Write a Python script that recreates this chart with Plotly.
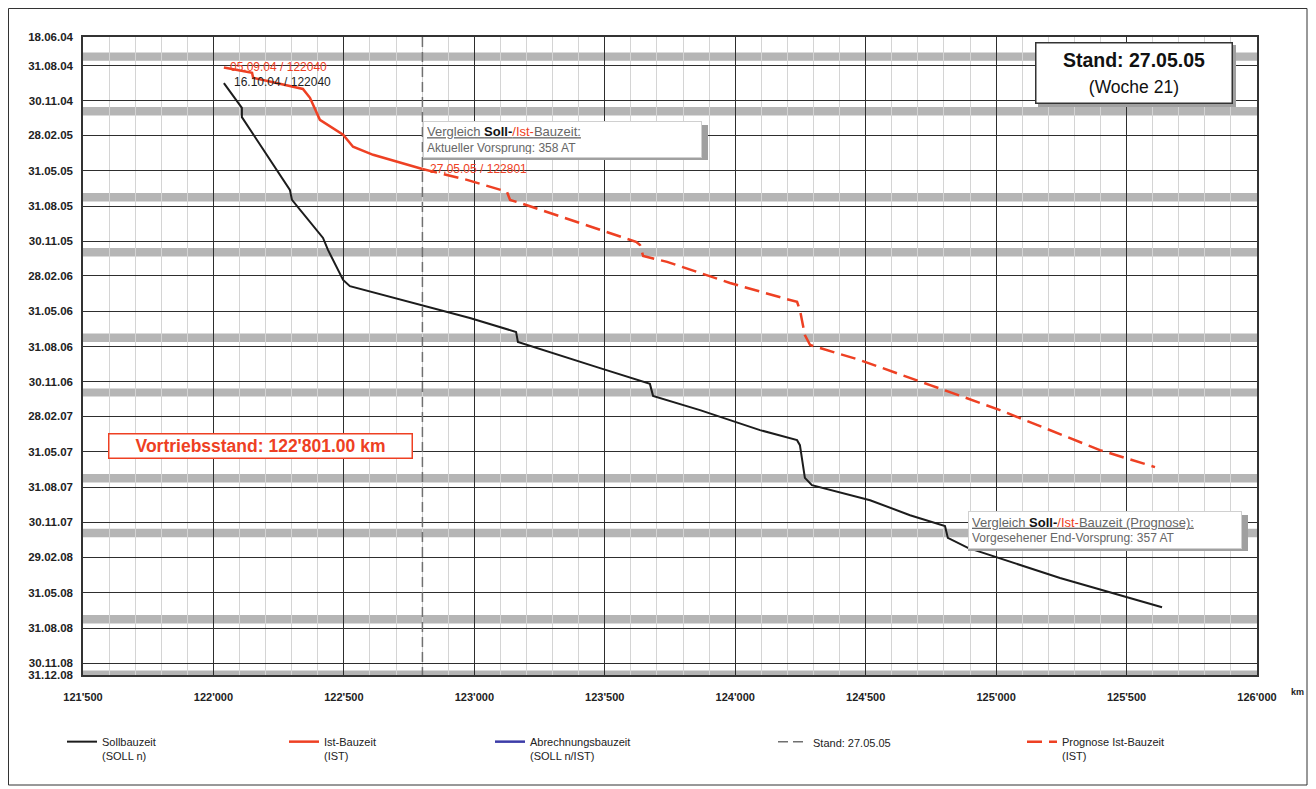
import plotly.graph_objects as go

# ---------------- data ----------------
ytick_dates = ["2004-06-18", "2004-08-31", "2004-11-30", "2005-02-28", "2005-05-31",
               "2005-08-31", "2005-11-30", "2006-02-28", "2006-05-31", "2006-08-31",
               "2006-11-30", "2007-02-28", "2007-05-31", "2007-08-31", "2007-11-30",
               "2008-02-29", "2008-05-31", "2008-08-31", "2008-11-30", "2008-12-31"]
ytick_labels = ["18.06.04", "31.08.04", "30.11.04", "28.02.05", "31.05.05",
                "31.08.05", "30.11.05", "28.02.06", "31.05.06", "31.08.06",
                "30.11.06", "28.02.07", "31.05.07", "31.08.07", "30.11.07",
                "29.02.08", "31.05.08", "31.08.08", "30.11.08", "31.12.08"]
xtick_vals = [121500, 122000, 122500, 123000, 123500, 124000, 124500, 125000, 125500, 126000]
xtick_labels = ["121'500", "122'000", "122'500", "123'000", "123'500",
                "124'000", "124'500", "125'000", "125'500", "126'000"]

soll_km = [122040, 122109, 122109, 122293, 122301, 122420, 122439, 122497, 122523, 122792,
           122983, 123160, 123167, 123482, 123673, 123685, 123865, 124095, 124237, 124248,
           124267, 124294, 124517, 124670, 124804, 124815, 124892, 125245, 125636]
soll_date = ["2004-10-16", "2004-12-19", "2005-01-12", "2005-07-20", "2005-08-15", "2005-11-22",
             "2005-12-23", "2006-03-11", "2006-03-27", "2006-05-15", "2006-06-18", "2006-07-24",
             "2006-08-19", "2006-10-26", "2006-12-06", "2007-01-06", "2007-02-12", "2007-04-05",
             "2007-05-01", "2007-05-14", "2007-08-07", "2007-08-26", "2007-10-04", "2007-11-12",
             "2007-12-10", "2008-01-10", "2008-02-05", "2008-04-23", "2008-07-08"]

ist_km = [122040, 122148, 122152, 122267, 122343, 122370, 122397, 122408, 122497, 122535,
          122612, 122715, 122801]
ist_date = ["2004-09-05", "2004-09-19", "2004-10-02", "2004-10-20", "2004-10-31", "2004-11-23",
            "2005-01-06", "2005-01-19", "2005-02-27", "2005-03-30", "2005-04-20", "2005-05-11",
            "2005-05-27"]

prog_km = [122801, 122972, 123125, 123137, 123175, 123482, 123620, 123635, 123647, 123739,
           123980, 124183, 124237, 124248, 124267, 124287, 124478, 124747, 125015, 125398, 125609]
prog_date = ["2005-05-27", "2005-06-24", "2005-07-25", "2005-08-15", "2005-08-23", "2005-11-01",
             "2005-12-02", "2005-12-10", "2006-01-08", "2006-01-23", "2006-03-19", "2006-04-27",
             "2006-05-07", "2006-05-28", "2006-08-01", "2006-08-27", "2006-10-05", "2006-12-09",
             "2007-02-12", "2007-05-27", "2007-07-10"]

stand_km = [122801, 122801]
stand_date = ["2004-06-18", "2008-12-31"]

break_start = ["2004-07-28", "2004-12-17", "2005-07-28", "2005-12-18", "2006-07-28",
               "2006-12-18", "2007-07-28", "2007-12-17", "2008-07-28", "2008-12-19"]
break_end = ["2004-08-19", "2005-01-08", "2005-08-19", "2006-01-09", "2006-08-19",
             "2007-01-08", "2007-08-19", "2008-01-08", "2008-08-19", "2008-12-31"]

# ---------------- styles ----------------
RED = "#ee4023"
BLACK = "#1c1c1c"
FONT = "Liberation Sans, Arial, sans-serif"

fig = go.Figure()

fig.add_trace(go.Scatter(x=soll_km, y=soll_date, mode="lines", name="Sollbauzeit<br>(SOLL n)",
                         line=dict(color=BLACK, width=2), legend="legend"))
fig.add_trace(go.Scatter(x=ist_km, y=ist_date, mode="lines", name="Ist-Bauzeit<br>(IST)",
                         line=dict(color=RED, width=2.5), legend="legend2"))
fig.add_trace(go.Scatter(x=[None], y=[None], mode="lines", name="Abrechnungsbauzeit<br>(SOLL n/IST)",
                         line=dict(color="#3c3ca8", width=2.5), legend="legend3"))
fig.add_trace(go.Scatter(x=stand_km, y=stand_date, mode="lines", name="Stand: 27.05.05",
                         line=dict(color="#707070", width=1.5, dash="10px,5px"), legend="legend4"))
fig.add_trace(go.Scatter(x=prog_km, y=prog_date, mode="lines", name="Prognose Ist-Bauzeit<br>(IST)",
                         line=dict(color=RED, width=2.5, dash="15px,7px"), legend="legend5"))

shapes = []
for s, e in zip(break_start, break_end):
    shapes.append(dict(type="rect", xref="paper", yref="y", x0=0, x1=1, y0=s, y1=e,
                       fillcolor="#b5b5b5", line=dict(width=0), layer="below"))

# screen-pixel -> paper helpers (plot area: x 83..1257, y 37..675 on screen)
W0, H0 = 1174.0, 638.0
L, T = 83.0, 37.0


def px(x):
    return (x - L) / W0


def py(y):
    return (T + H0 - y) / H0


# shadows of the boxes
for (x0, y0, x1, y1) in [(423, 125, 708, 160), (968, 515, 1248, 551), (1038, 45, 1236, 107)]:
    shapes.append(dict(type="rect", xref="paper", yref="paper", x0=px(x0), x1=px(x1),
                       y0=py(y1), y1=py(y0), fillcolor="#a0a0a0", line=dict(width=0), layer="above"))
# outer frame
shapes.append(dict(type="rect", xref="paper", yref="paper", x0=px(8.5), x1=px(1307), y0=py(785), y1=py(8.5),
                   line=dict(color="#333", width=1), fillcolor="rgba(0,0,0,0)", layer="above"))

annotations = []
annotations.append(dict(x=122040, y="2004-09-05", xref="x", yref="y", text="05.09.04 / 122040",
                        showarrow=False, xanchor="left", yanchor="middle", xshift=4,
                        font=dict(family=FONT, size=12, color=RED)))
annotations.append(dict(x=122040, y="2004-10-16", xref="x", yref="y", text="16.10.04 / 122040",
                        showarrow=False, xanchor="left", yanchor="middle", xshift=8, yshift=1,
                        font=dict(family=FONT, size=12, color=BLACK)))
annotations.append(dict(x=122801, y="2005-05-27", xref="x", yref="y", text="27.05.05 / 122801",
                        showarrow=False, xanchor="left", yanchor="middle", xshift=6,
                        font=dict(family=FONT, size=12, color=RED)))

cmp1 = ('<span style="text-decoration:underline;font-size:13px">Vergleich '
        '<span style="font-weight:bold;color:#111">Soll-</span>'
        '<span style="color:' + RED + '">/Ist-</span>Bauzeit:</span>'
        '<br>Aktueller Vorsprung: 358 AT')
annotations.append(dict(x=px(562.5), y=py(139.5), xref="paper", yref="paper", text=cmp1,
                        showarrow=False, xanchor="center", yanchor="middle", align="left",
                        width=271, height=29, borderpad=3, borderwidth=1, bordercolor="#d0d0d0",
                        bgcolor="white", font=dict(family=FONT, size=12, color="#666")))
cmp2 = ('<span style="text-decoration:underline;font-size:13px">Vergleich '
        '<span style="font-weight:bold;color:#111">Soll-</span>'
        '<span style="color:' + RED + '">/Ist-</span>Bauzeit (Prognose):</span>'
        '<br>Vorgesehener End-Vorsprung: 357 AT')
annotations.append(dict(x=px(1105), y=py(530), xref="paper", yref="paper", text=cmp2,
                        showarrow=False, xanchor="center", yanchor="middle", align="left",
                        width=266, height=30, borderpad=3, borderwidth=1, bordercolor="#d0d0d0",
                        bgcolor="white", font=dict(family=FONT, size=12, color="#666")))
annotations.append(dict(x=px(1134), y=py(73), xref="paper", yref="paper",
                        text='<b>Stand: 27.05.05</b><br><span style="font-size:17.5px">(Woche 21)</span>',
                        showarrow=False, xanchor="center", yanchor="middle", align="center",
                        width=195, height=59, borderpad=0, borderwidth=1.5, bordercolor="#333",
                        bgcolor="white", font=dict(family=FONT, size=19.5, color="#111")))
annotations.append(dict(x=px(260), y=py(446.5), xref="paper", yref="paper",
                        text="<b>Vortriebsstand: 122'801.00 km</b>",
                        showarrow=False, xanchor="center", yanchor="middle", align="center",
                        width=302, height=23, borderpad=0, borderwidth=1.5, bordercolor=RED,
                        bgcolor="white", font=dict(family=FONT, size=17.5, color=RED)))
annotations.append(dict(x=px(1297), y=py(692), xref="paper", yref="paper", text="<b>km</b>",
                        showarrow=False, xanchor="center", yanchor="middle",
                        font=dict(family=FONT, size=9, color="#222")))

leg_common = dict(orientation="h", xanchor="left", yanchor="top", bgcolor="rgba(0,0,0,0)",
                  font=dict(family=FONT, size=11, color="#222"), itemwidth=30, valign="top",
                  borderwidth=0)
leg_x = [62, 284, 490, 773, 1022]
legends = {}
for i, lx in enumerate(leg_x):
    key = "legend" if i == 0 else "legend%d" % (i + 1)
    legends[key] = dict(leg_common, x=px(lx), y=py(728))

# the page adds an 8 px body offset, so figure margins are reduced by 8 on left/top
fig.update_layout(
    width=1316, height=789, autosize=False,
    margin=dict(l=75, r=67, t=29, b=122),
    paper_bgcolor="white", plot_bgcolor="white",
    font=dict(family=FONT, color="#222"),
    shapes=shapes, annotations=annotations,
    showlegend=True,
    **legends,
)

fig.update_xaxes(range=[121500, 126000], tickmode="array", tickvals=xtick_vals, ticktext=xtick_labels,
                 showgrid=True, gridcolor="#2e2e2e", gridwidth=1.4, zeroline=False,
                 showline=True, linecolor="#333", linewidth=1.5, mirror=True,
                 ticks="", ticklabelstandoff=11,
                 tickfont=dict(family=FONT, size=11, color="#222", weight="bold"),
                 minor=dict(tickmode="linear", tick0=121500, dtick=100, showgrid=True,
                            gridcolor="#d4d4d4", gridwidth=1, ticks=""))
fig.update_yaxes(type="date", range=["2008-12-31", "2004-06-18"], tickmode="array",
                 tickvals=ytick_dates, ticktext=ytick_labels,
                 showgrid=True, gridcolor="#2e2e2e", gridwidth=1.4, zeroline=False,
                 showline=True, linecolor="#333", linewidth=1.5, mirror=True,
                 ticks="", ticklabelstandoff=6,
                 tickfont=dict(family=FONT, size=11.5, color="#222", weight="bold"))

fig.write_html("out.html")
